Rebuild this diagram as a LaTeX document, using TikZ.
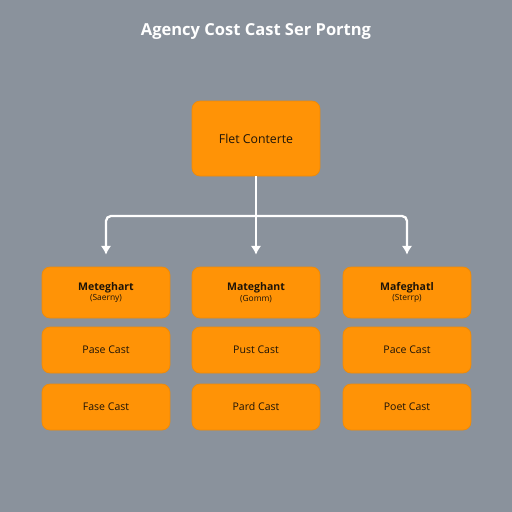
\documentclass[tikz,border=0pt]{standalone}
\usepackage{fontspec}
\setmainfont{Open Sans}
\usetikzlibrary{arrows.meta,positioning}
\definecolor{slate}{HTML}{8A929C}
\definecolor{amber}{HTML}{FF9306}
\definecolor{amberDark}{HTML}{EE8A08}
\definecolor{ink}{HTML}{1E1408}

\begin{document}
\begin{tikzpicture}[x=0.02cm,y=-0.02cm,every node/.style={font=\fontsize{6}{7}\selectfont,text=ink},box/.style={rectangle,rounded corners=0.16cm,draw=amberDark,fill=amber,minimum width=2.56cm,align=center,line width=0.4pt},link/.style={draw=white,line width=1.3pt,-{Latex[length=5pt,width=6pt]},shorten >=0.24cm}]
  \fill[slate] (0,0) rectangle (512,512);
  \node[font=\fontsize{9.4}{11}\selectfont\bfseries,text=white] (title) at (256,31) {Agency Cost Cast Ser Portng};
  \node[box,minimum height=1.5cm,font=\fontsize{7}{8}\selectfont] (top) at (256,138.5) {Flet Conterte};
  \node[box,minimum height=1.02cm] (m1) at (106,292.5) {\textbf{Meteghart}\\[-1pt]{\fontsize{4.8}{5}\selectfont(Saerny)}};
  \node[box,minimum height=1.02cm] (m2) at (256,292.5) {\textbf{Mateghant}\\[-1pt]{\fontsize{4.8}{5}\selectfont(Gomm)}};
  \node[box,minimum height=1.02cm] (m3) at (407,292.5) {\textbf{Mafeghatl}\\[-1pt]{\fontsize{4.8}{5}\selectfont(Sterrp)}};
  \node[box,minimum height=0.92cm] (p1) at (106,350) {Pase Cast};
  \node[box,minimum height=0.92cm] (p2) at (256,350) {Pust Cast};
  \node[box,minimum height=0.92cm] (p3) at (407,350) {Pace Cast};
  \node[box,minimum height=0.92cm] (q1) at (106,407) {Fase Cast};
  \node[box,minimum height=0.92cm] (q2) at (256,407) {Pard Cast};
  \node[box,minimum height=0.92cm] (q3) at (407,407) {Poet Cast};
  \coordinate (split) at (256,216);
  \draw[link] (top) -- (m2);
  \foreach \n in {m1,m3}{\draw[link,rounded corners=0.1cm] (split) -| (\n);}
\end{tikzpicture}
\end{document}
